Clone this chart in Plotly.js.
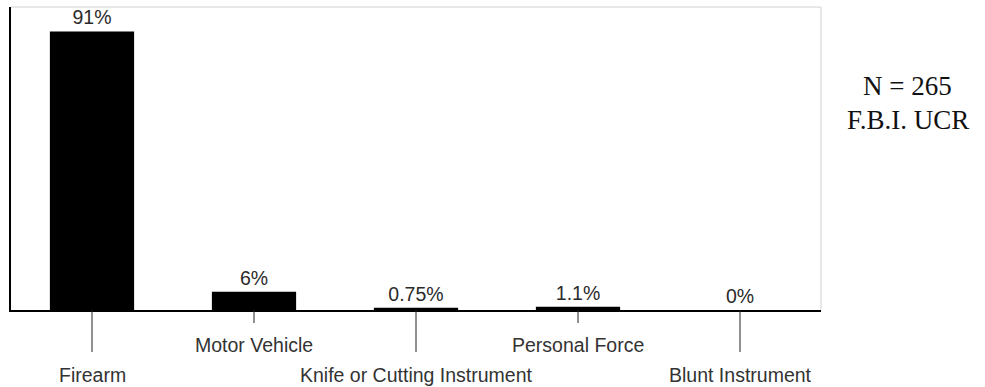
<!DOCTYPE html>
<html>
<head>
<meta charset="utf-8">
<script src="https://cdn.plot.ly/plotly-3.0.1.min.js"></script>
<style>html,body{margin:0;padding:0;background:#fff;}#chart{width:985px;height:387px;}</style>
</head>
<body>
<div id="chart"></div>
<script>
const categories = ["Firearm", "Motor Vehicle", "Knife or Cutting Instrument", "Personal Force", "Blunt Instrument"];
const percentValues = [91, 6, 0.75, 1.1, 0];
const valueLabels = ["91%", "6%", "0.75%", "1.1%", "0%"];
const labelLevels = [2, 1, 2, 1, 2]; // 1 = upper row, 2 = lower row
const noteLines = ["N = 265", "F.B.I. UCR"];

const sansFont = "Liberation Sans, Arial, sans-serif";
const serifFont = "Liberation Serif, Times New Roman, serif";
const plotHeightPx = 303;

const trace = {
  type: "bar",
  x: categories,
  y: percentValues,
  text: valueLabels,
  textposition: "outside",
  cliponaxis: false,
  textfont: {family: sansFont, size: 19.5, color: "#2a2a2a"},
  marker: {color: "#000000", line: {width: 0}},
  width: 0.52,
  hoverinfo: "skip"
};

const shapes = [
  {type: "line", xref: "paper", yref: "paper", x0: 0, x1: 1, y0: 1, y1: 1, line: {color: "#d0d0d0", width: 1}},
  {type: "line", xref: "paper", yref: "paper", x0: 1, x1: 1, y0: 0, y1: 1, line: {color: "#d0d0d0", width: 1}}
];
const annotations = [];
categories.forEach((c, i) => {
  const len = labelLevels[i] === 1 ? 13 : 42;
  shapes.push({
    type: "line", xref: "x", yref: "paper",
    x0: c, x1: c, y0: 0, y1: -len / plotHeightPx,
    line: {color: "#222", width: 1}
  });
  annotations.push({
    xref: "x", yref: "paper", x: c, y: 0,
    yshift: labelLevels[i] === 1 ? -35 : -65,
    yanchor: "middle", xanchor: "center",
    text: c, showarrow: false,
    font: {family: sansFont, size: 19.5, color: "#333"}
  });
});
noteLines.forEach((t, i) => {
  annotations.push({
    xref: "paper", yref: "paper", x: 1.107, y: 1, xanchor: "center", yanchor: "middle",
    yshift: -79 - i * 34,
    text: t, showarrow: false,
    font: {family: serifFont, size: 27, color: "#111"}
  });
});

const layout = {
  width: 985, height: 387,
  margin: {l: 11, r: 164, t: 7, b: 77, pad: 0},
  paper_bgcolor: "#ffffff", plot_bgcolor: "#ffffff",
  showlegend: false,
  bargap: 0.48,
  xaxis: {
    type: "category", range: [-0.5, 4.5],
    showticklabels: false, ticks: "", showgrid: false, zeroline: false,
    showline: true, linecolor: "#000", linewidth: 2, fixedrange: true
  },
  yaxis: {
    range: [0, 99], showticklabels: false, ticks: "", showgrid: false, zeroline: false,
    showline: true, linecolor: "#000", linewidth: 2, fixedrange: true
  },
  shapes: shapes,
  annotations: annotations
};

Plotly.newPlot("chart", [trace], layout, {displayModeBar: false, staticPlot: true});
</script>
</body>
</html>
